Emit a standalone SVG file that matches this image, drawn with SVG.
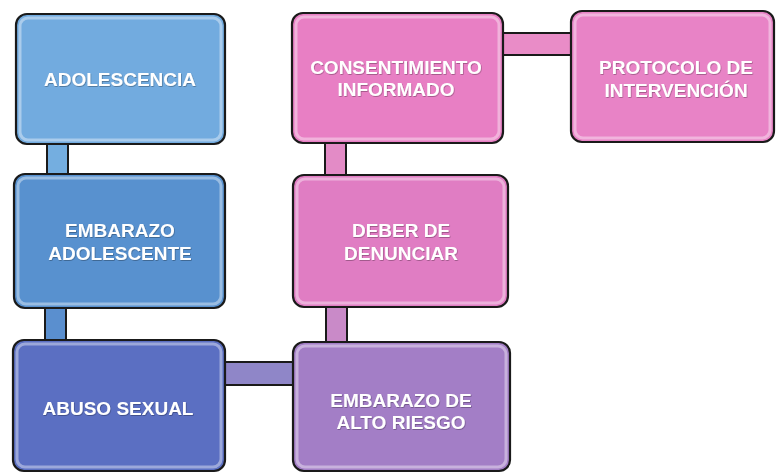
<svg xmlns="http://www.w3.org/2000/svg" width="776" height="473" viewBox="0 0 776 473">
<style>
.box{stroke:#1a1a1a;stroke-width:2.2}
.in{fill:none;stroke:#ffffff;stroke-opacity:0.4;stroke-width:3}
.lbl{font-family:"Liberation Sans",Arial,sans-serif;font-weight:bold;font-size:19px;fill:#ffffff;text-anchor:middle;filter:url(#sh)}
.conn{stroke:#1a1a1a;stroke-width:2}
</style>
<defs>
<filter id="sh" x="-10%" y="-30%" width="120%" height="160%">
<feDropShadow dx="0.6" dy="0.8" stdDeviation="0.6" flood-color="#000" flood-opacity="0.35"/>
</filter>
</defs>
<rect width="776" height="473" fill="#ffffff"/>
<g id="connectors">
<rect class="conn" x="47" y="142" width="21" height="34" fill="#74aee0"/>
<rect class="conn" x="45" y="306" width="21" height="36" fill="#5a8fcf"/>
<rect class="conn" x="224" y="362" width="70" height="23" fill="#8f86c8"/>
<rect class="conn" x="326" y="305" width="21" height="39" fill="#c98ac8"/>
<rect class="conn" x="325" y="141" width="21" height="36" fill="#e38bc6"/>
<rect class="conn" x="502" y="33" width="70" height="22" fill="#e98cc7"/>
</g>
<g id="n-adolescencia">
<rect class="box" x="16" y="14" width="209" height="130" rx="11" fill="#72abdf"/>
<rect class="in" x="20" y="18" width="201" height="122" rx="8"/>
<text class="lbl" x="120" y="86">ADOLESCENCIA</text>
</g>
<g id="n-embarazo-adolescente">
<rect class="box" x="14" y="174" width="211" height="134" rx="11" fill="#5891cf"/>
<rect class="in" x="18" y="178" width="203" height="126" rx="8"/>
<text class="lbl" x="120" y="237">EMBARAZO</text>
<text class="lbl" x="120" y="260">ADOLESCENTE</text>
</g>
<g id="n-abuso-sexual">
<rect class="box" x="13" y="340" width="212" height="131" rx="11" fill="#5b6fc2"/>
<rect class="in" x="17" y="344" width="204" height="123" rx="8"/>
<text class="lbl" x="118" y="415">ABUSO SEXUAL</text>
</g>
<g id="n-embarazo-alto-riesgo">
<rect class="box" x="293" y="342" width="217" height="129" rx="11" fill="#a37ec6"/>
<rect class="in" x="297" y="346" width="209" height="121" rx="8"/>
<text class="lbl" x="401" y="407">EMBARAZO DE</text>
<text class="lbl" x="401" y="429">ALTO RIESGO</text>
</g>
<g id="n-deber-denunciar">
<rect class="box" x="293" y="175" width="215" height="132" rx="11" fill="#e07dc3"/>
<rect class="in" x="297" y="179" width="207" height="124" rx="8"/>
<text class="lbl" x="401" y="237">DEBER DE</text>
<text class="lbl" x="401" y="260">DENUNCIAR</text>
</g>
<g id="n-consentimiento">
<rect class="box" x="292" y="13" width="211" height="130" rx="11" fill="#e87fc4"/>
<rect class="in" x="296" y="17" width="203" height="122" rx="8"/>
<text class="lbl" x="396" y="74">CONSENTIMIENTO</text>
<text class="lbl" x="396" y="96">INFORMADO</text>
</g>
<g id="n-protocolo">
<rect class="box" x="571" y="11" width="203" height="131" rx="11" fill="#e883c6"/>
<rect class="in" x="575" y="15" width="195" height="123" rx="8"/>
<text class="lbl" x="676" y="74">PROTOCOLO DE</text>
<text class="lbl" x="676" y="97">INTERVENCIÓN</text>
</g>
</svg>
